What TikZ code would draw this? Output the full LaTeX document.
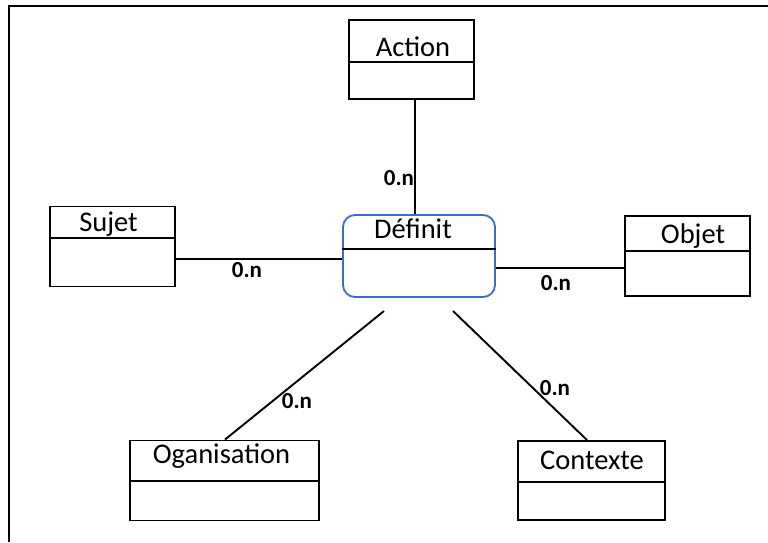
\documentclass[tikz,border=0pt]{standalone}
\usepackage{fontspec}
\setmainfont{Carlito}
\definecolor{relblue}{RGB}{60,110,195}
\begin{document}
\begin{tikzpicture}[x=1pt,y=-1pt,
  cls/.style={draw=black,line width=1.9pt,fill=white,inner sep=0pt},
  rel/.style={draw=relblue,line width=1.8pt,fill=white,rounded corners=12pt,inner sep=0pt},
  ttl/.style={inner sep=0pt,anchor=base,font=\fontsize{28.5}{30}\selectfont},
  card/.style={inner sep=0pt,font=\fontsize{23}{25}\selectfont\bfseries},
  link/.style={line width=1.9pt,draw=black},
  divider/.style={line width=1.9pt,draw=black}]
\useasboundingbox (0,0) rectangle (768,542);
\fill[white] (0,0) rectangle (768,542);
% frame
\coordinate (fbl) at (9,542);
\coordinate (ftl) at (9,6);
\coordinate (ftr) at (768,6);
\draw[line width=1.4pt] (fbl) -- (ftl) -- (ftr);

% class boxes
\node[cls,minimum width=125pt,minimum height=79pt] (action) at (411.5,59.5) {};
\node[rel,minimum width=152pt,minimum height=82pt] (definit) at (419,256) {};
\node[cls,minimum width=125pt,minimum height=80pt] (sujet) at (112.5,246.5) {};
\node[cls,minimum width=125pt,minimum height=80pt] (objet) at (687.5,256) {};
\node[cls,minimum width=189pt,minimum height=80pt] (org) at (224.5,480.5) {};
\node[cls,minimum width=147pt,minimum height=79pt] (ctx) at (591.5,480.5) {};

% dividers
\coordinate (dA) at (0,62);
\coordinate (dD) at (0,249);
\coordinate (dS) at (0,238);
\coordinate (dO) at (0,251);
\coordinate (dG) at (0,481);
\coordinate (dC) at (0,482);
\draw[divider] (action.west |- dA) -- (action.east |- dA);
\draw[divider] (definit.west |- dD) -- (definit.east |- dD);
\draw[divider] (sujet.west |- dS) -- (sujet.east |- dS);
\draw[divider] (objet.west |- dO) -- (objet.east |- dO);
\draw[divider] (org.west |- dG) -- (org.east |- dG);
\draw[divider] (ctx.west |- dC) -- (ctx.east |- dC);

% titles
\node[ttl] (actionT) at (413,56) {Action};
\node[ttl] (definitT) at (413,238) {Définit};
\node[ttl] (sujetT) at (108.5,231) {Sujet};
\node[ttl] (objetT) at (693,243) {Objet};
\node[ttl] (orgT) at (221.5,463) {Oganisation};
\node[ttl] (ctxT) at (592,469) {Contexte};

% connectors
\coordinate (xA) at (415,0);
\coordinate (yS) at (0,259);
\coordinate (yO) at (0,268);
\coordinate (gTop) at (384,311);
\coordinate (gBot) at (225,0);
\coordinate (cTop) at (453,311);
\coordinate (cBot) at (587,0);
\draw[link] (action.south -| xA) -- (definit.north -| xA);
\draw[link] (sujet.east |- yS) -- (definit.west |- yS);
\draw[link] (definit.east |- yO) -- (objet.west |- yO);
\draw[link] (gTop) -- (org.north -| gBot);
\draw[link] (cTop) -- (ctx.north -| cBot);

% cardinalities
\node[card] (cA) at (399,178) {0.n};
\node[card] (cS) at (247,270) {0.n};
\node[card] (cO) at (556,283) {0.n};
\node[card] (cG) at (297,401) {0.n};
\node[card] (cC) at (555,388) {0.n};
\end{tikzpicture}
\end{document}
